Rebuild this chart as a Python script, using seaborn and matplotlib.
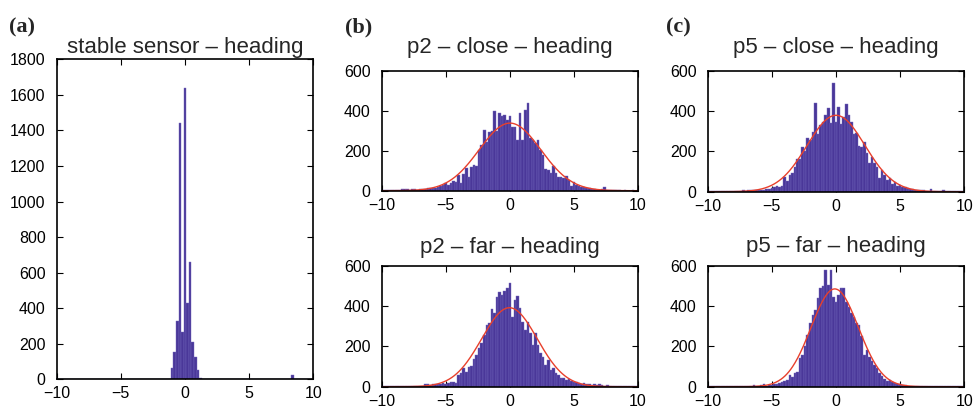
import numpy as np
import pandas as pd
import matplotlib.pyplot as plt
import seaborn as sns

# bin centres -10 .. 10, step 0.2 (101 bins)
centers = np.linspace(-10, 10, 101)

# counts, one list per panel
stable_sensor = [0, 0, 0, 0, 0, 0, 0, 0, 0, 0,
                 0, 0, 0, 0, 0, 0, 0, 0, 0, 0,
                 0, 0, 0, 0, 0, 0, 0, 0, 0, 0,
                 0, 0, 0, 0, 0, 0, 0, 0, 0, 0,
                 0, 0, 0, 0, 0, 66, 156, 330, 1440, 268,
                 1640, 431, 662, 212, 128, 53, 5, 3, 0, 0,
                 0, 0, 0, 0, 0, 0, 0, 0, 0, 0,
                 0, 0, 0, 0, 0, 0, 0, 0, 0, 0,
                 0, 0, 0, 0, 0, 0, 0, 0, 0, 0,
                 0, 0, 25, 0, 0, 0, 0, 0, 0, 0,
                 2]

p2_close = [3, 2, 3, 4, 3, 5, 4, 6, 8, 9,
            7, 6, 8, 7, 6, 8, 10, 9, 12, 14,
            13, 15, 17, 23, 27, 37, 28, 40, 50, 43,
            78, 40, 83, 112, 70, 120, 128, 123, 203, 228,
            303, 245, 295, 300, 400, 300, 387, 373, 378, 353,
            373, 320, 320, 253, 390, 253, 403, 437, 262, 253,
            237, 253, 203, 178, 107, 103, 87, 123, 90, 70,
            67, 62, 73, 53, 23, 45, 28, 23, 20, 17,
            13, 12, 8, 8, 6, 5, 7, 20, 4, 3,
            2, 3, 2, 2, 1, 2, 1, 1, 2, 1,
            3]

p2_far = [2, 1, 2, 3, 2, 5, 2, 2, 3, 5,
          4, 3, 2, 3, 2, 4, 5, 12, 13, 10,
          12, 15, 12, 15, 17, 13, 17, 22, 25, 20,
          58, 66, 91, 74, 99, 104, 137, 157, 190, 215,
          256, 306, 314, 383, 364, 446, 468, 455, 476, 488,
          512, 347, 430, 450, 388, 322, 281, 322, 264, 207,
          268, 207, 165, 149, 107, 132, 83, 91, 66, 58,
          41, 45, 33, 38, 28, 21, 25, 17, 15, 17,
          12, 15, 10, 15, 10, 12, 8, 5, 8, 4,
          3, 2, 3, 2, 2, 3, 2, 5, 2, 1,
          3]

p5_close = [4, 2, 3, 2, 3, 2, 4, 3, 5, 3,
            4, 5, 3, 4, 6, 5, 6, 7, 8, 9,
            8, 10, 9, 11, 12, 17, 25, 28, 21, 28,
            74, 55, 83, 91, 121, 160, 164, 220, 203, 264,
            256, 298, 438, 284, 331, 347, 380, 413, 339, 540,
            347, 418, 336, 372, 435, 380, 347, 286, 292, 226,
            220, 248, 190, 144, 174, 140, 121, 66, 107, 83,
            58, 66, 38, 50, 28, 33, 21, 25, 17, 15,
            12, 10, 8, 7, 6, 5, 4, 12, 3, 4,
            3, 2, 10, 3, 2, 2, 1, 2, 1, 1,
            3]

p5_far = [2, 1, 2, 2, 1, 3, 2, 3, 4, 3,
          3, 2, 4, 3, 2, 3, 4, 5, 6, 5,
          4, 6, 12, 5, 6, 8, 12, 15, 18, 21,
          28, 33, 58, 50, 66, 71, 140, 157, 203, 256,
          314, 355, 380, 438, 488, 501, 579, 504, 579, 446,
          421, 455, 488, 488, 421, 397, 364, 347, 314, 306,
          251, 157, 182, 149, 127, 107, 91, 66, 55, 38,
          28, 33, 21, 17, 15, 12, 8, 8, 5, 4,
          3, 3, 2, 3, 2, 2, 1, 2, 1, 3,
          1, 2, 1, 1, 1, 1, 1, 1, 1, 1,
          2]

titles = ["stable sensor \u2013 heading",
          "p2 \u2013 close \u2013 heading", "p2 \u2013 far \u2013 heading",
          "p5 \u2013 close \u2013 heading", "p5 \u2013 far \u2013 heading"]
panel_letters = ["(a)", "(b)", "(c)"]

bar_color = "#4a3799"
fit_color = "#e8402c"

sns.set_style("ticks")
plt.rcParams['font.family'] = ['Liberation Sans', 'DejaVu Sans']

fig = plt.figure(figsize=(9.73, 4.12), dpi=100)


def panel(rect, counts, title, ymax, step, pad, fit=True):
    ax = fig.add_axes(rect)
    df = pd.DataFrame({"heading": centers, "count": np.asarray(counts, dtype=float)})
    sns.histplot(data=df, x="heading", weights="count", bins=len(centers),
                 binrange=(-10.1, 10.1), ax=ax,
                 color=bar_color, alpha=1, edgecolor="#7468bd", linewidth=0.3)
    if fit:
        # normal fit like histfit
        n = df["count"].sum()
        mu = np.average(df["heading"], weights=df["count"])
        sd = np.sqrt(np.average((df["heading"] - mu) ** 2, weights=df["count"]))
        xs = np.linspace(-10, 10, 400)
        ys = n * 0.2 / (sd * np.sqrt(2 * np.pi)) * np.exp(-(xs - mu) ** 2 / (2 * sd ** 2))
        sns.lineplot(x=xs, y=ys, ax=ax, color=fit_color, linewidth=1)
    ax.set_xlim(-10, 10)
    ax.set_ylim(0, ymax)
    ax.set_xticks([-10, -5, 0, 5, 10])
    ax.set_yticks(np.arange(0, ymax + 1, step))
    ax.set_xlabel("")
    ax.set_ylabel("")
    ax.tick_params(direction="in", top=True, right=True, length=4, width=0.8,
                   labelsize=11.5, colors="black")
    ax.tick_params(axis="x", pad=5)
    ax.tick_params(axis="y", pad=8)
    for s in ax.spines.values():
        s.set_linewidth(1.2)
        s.set_color("black")
    ax.set_title(title, fontsize=16, pad=pad)
    return ax


W = 973
H = 412


def rect(x0, x1, ytop, ybot):
    return [x0 / W, 1 - ybot / H, (x1 - x0) / W, (ybot - ytop) / H]


panel(rect(56.7, 313.3, 59.3, 379.3), stable_sensor, titles[0], 1800, 200, 4.5, fit=False)
panel(rect(381.7, 638, 70.7, 190.7), p2_close, titles[1], 600, 200, 12.5)
panel(rect(381.7, 638, 265.7, 386.7), p2_far, titles[2], 600, 200, 9.5)
panel(rect(707.7, 964.3, 70.7, 191.7), p5_close, titles[3], 600, 200, 13)
panel(rect(707.7, 964.3, 265.7, 386.7), p5_far, titles[4], 600, 200, 10)

for letter, x in zip(panel_letters, [9, 345, 666]):
    fig.text(x / W, 1 - 32 / H, letter, fontsize=16, fontweight="bold",
             family=["Liberation Serif", "DejaVu Serif"])

fig.savefig("out.png", dpi=100)
